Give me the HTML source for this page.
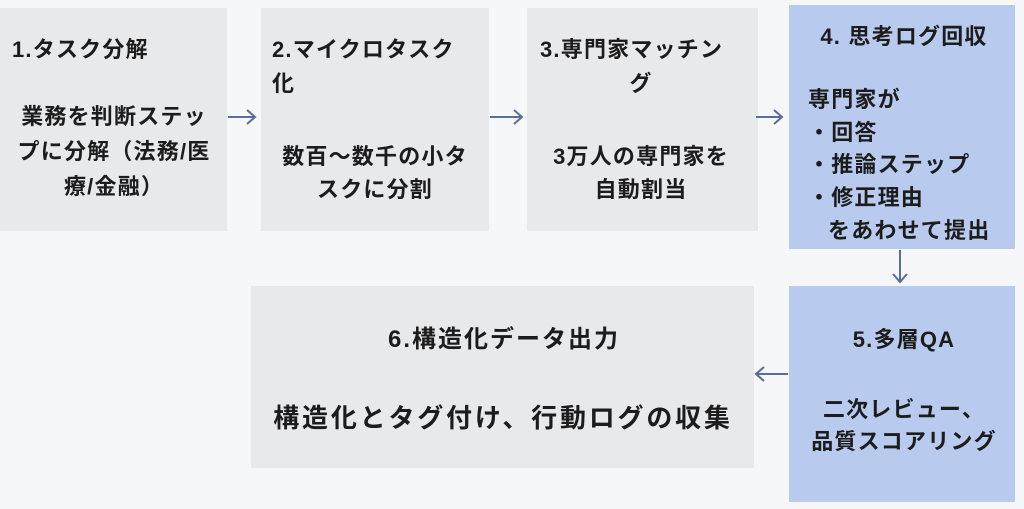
<!DOCTYPE html>
<html><head><meta charset="utf-8"><style>
body{margin:0;width:1024px;height:509px;background:#f5f7f9;position:relative;overflow:hidden;font-family:"Liberation Sans","Noto Sans CJK JP",sans-serif;color:#1c1c1c;font-weight:700}
.b{position:absolute}
.g{background:#e8e9eb}.u{background:#b8cbee}
.t{position:absolute;white-space:nowrap;font-size:22px;letter-spacing:1.2px;line-height:24px}
.c{transform:translateX(-50%)}
svg{position:absolute;left:0;top:0}
</style></head><body>
<div class="b g" style="left:0;top:8px;width:227px;height:223px"></div>
<div class="b g" style="left:261px;top:8px;width:228px;height:223px"></div>
<div class="b g" style="left:527px;top:8px;width:231px;height:223px"></div>
<div class="b u" style="left:789px;top:5px;width:226px;height:244px"></div>
<div class="b u" style="left:789px;top:286px;width:226px;height:216px"></div>
<div class="b g" style="left:251px;top:286px;width:503px;height:182px"></div>

<div class="t" style="left:12px;top:38px">1.タスク分解</div>
<div class="t c" style="left:114px;top:105px">業務を判断ステッ</div>
<div class="t c" style="left:114px;top:140px">プに分解（法務/医</div>
<div class="t c" style="left:114px;top:175px">療/金融）</div>

<div class="t" style="left:272px;top:38px">2.マイクロタスク</div>
<div class="t" style="left:272px;top:72px">化</div>
<div class="t c" style="left:375px;top:145px">数百〜数千の小タ</div>
<div class="t c" style="left:375px;top:178px">スクに分割</div>

<div class="t" style="left:540px;top:38px">3.専門家マッチン</div>
<div class="t c" style="left:641px;top:72px">グ</div>
<div class="t c" style="left:641px;top:145px">3万人の専門家を</div>
<div class="t c" style="left:641px;top:178px">自動割当</div>

<div class="t c" style="left:904px;top:25px">4. 思考ログ回収</div>
<div class="t" style="left:808px;top:88px">専門家が</div>
<div class="t" style="left:808px;top:121px">・回答</div>
<div class="t" style="left:808px;top:153px">・推論ステップ</div>
<div class="t" style="left:808px;top:186px">・修正理由</div>
<div class="t" style="left:828px;top:219px">をあわせて提出</div>

<div class="t c" style="left:904px;top:328px">5.多層QA</div>
<div class="t c" style="left:904px;top:398px">二次レビュー、</div>
<div class="t c" style="left:904px;top:430px">品質スコアリング</div>

<div class="t c" style="left:504px;top:326px;font-size:24px;letter-spacing:2px;line-height:28px">6.構造化データ出力</div>
<div class="t c" style="left:503px;top:404px;font-size:26px;letter-spacing:2.8px;line-height:28px">構造化とタグ付け、行動ログの収集</div>

<svg width="1024" height="509" fill="none" stroke="#5a6d9a" stroke-width="2">
<path d="M228 117H255M247 110L255 117L247 124"/>
<path d="M490 117H522M514 110L522 117L514 124"/>
<path d="M756 117H782M774 110L782 117L774 124"/>
<path d="M900 250V282M893 274L900 282L907 274"/>
<path d="M788 374H756M764 367L756 374L764 381"/>
</svg>
</body></html>
